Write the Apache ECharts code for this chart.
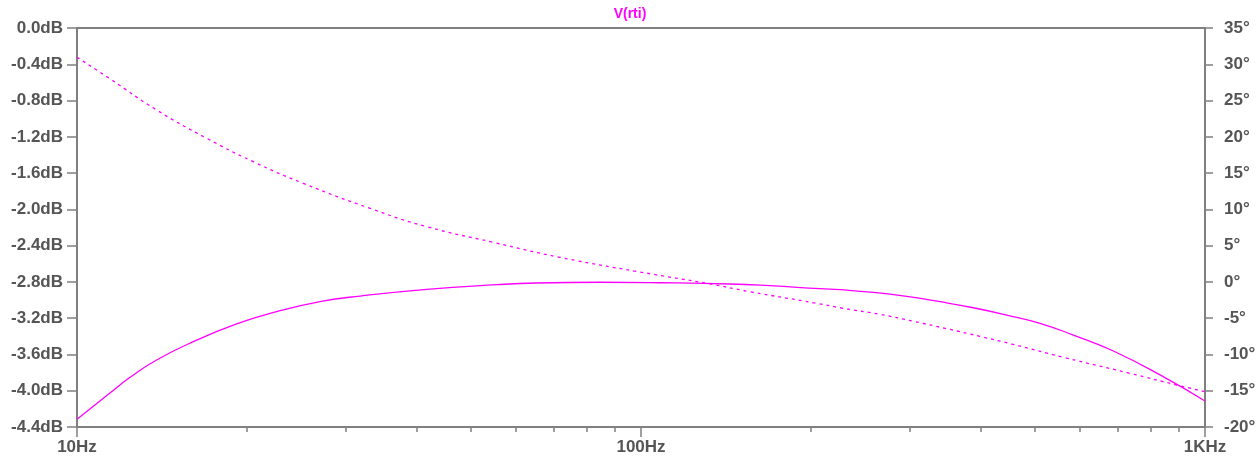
<!DOCTYPE html>
<html>
<head>
<meta charset="utf-8">
<style>
  html, body { margin: 0; padding: 0; background: #fff; }
  #chart { width: 1260px; height: 459px; }
</style>
<script src="https://cdn.jsdelivr.net/npm/echarts@6/dist/echarts.min.js"></script>
</head>
<body>
<div id="chart"></div>
<script>
// Frequency response of V(rti): magnitude (dB, solid) and phase (degrees, dashed)
const title = 'V(rti)';

const magFreq = [10, 11.44, 12.42, 13.84, 16.08, 19.19, 22.59, 26.97, 31.76, 41.7, 55.5, 65.2, 84.6, 108.1, 143.8, 169.3, 207.7, 225.4, 258.2, 295.9, 338.9, 388.3, 444.9, 509.8, 584.1, 688, 843, 1000];
const magDb   = [-4.315, -4.025, -3.852, -3.661, -3.459, -3.264, -3.129, -3.018, -2.956, -2.882, -2.831, -2.812, -2.804, -2.809, -2.823, -2.842, -2.875, -2.886, -2.915, -2.959, -3.018, -3.085, -3.165, -3.257, -3.386, -3.562, -3.845, -4.113];

const phaseFreq = [10, 11.44, 13.84, 16.98, 20.54, 25.19, 33.08, 41.7, 54.7, 71.8, 105.1, 130.8, 156.1, 204.9, 228.4, 265.4, 304, 348.3, 399, 454, 561, 736, 891, 1000];
const phaseDeg  = [30.96, 28.0, 23.7, 19.8, 16.57, 13.59, 10.14, 7.61, 5.46, 3.39, 1.05, -0.19, -1.35, -2.95, -3.64, -4.47, -5.43, -6.45, -7.5, -8.56, -10.39, -12.6, -14.21, -15.13];

const majorFreqTicks = [10, 100, 1000];
const majorFreqLabels = ['10Hz', '100Hz', '1KHz'];
const minorFreqTicks = [20, 30, 40, 50, 60, 70, 80, 90, 200, 300, 400, 500, 600, 700, 800, 900];

const dbMin = -4.4, dbMax = 0, dbStep = 0.4;
const degMin = -20, degMax = 35, degStep = 5;

const axisGray = '#808080';
const textGray = '#555555';
const trace = '#ff00ff';
const font = 'Liberation Sans';

const chart = echarts.init(document.getElementById('chart'), null, { renderer: 'canvas' });

chart.setOption({
  backgroundColor: '#ffffff',
  animation: false,
  title: {
    text: title,
    left: 'center',
    top: 2,
    textStyle: { color: trace, fontFamily: font, fontWeight: 'bold', fontSize: 14 }
  },
  grid: {
    left: 77, right: 55, top: 28, bottom: 32,
    show: true, borderColor: axisGray, borderWidth: 2, backgroundColor: '#ffffff'
  },
  xAxis: [
    {
      type: 'log', logBase: 10, min: 10, max: 1000,
      position: 'bottom',
      axisLine: { show: true, onZero: false, lineStyle: { color: axisGray, width: 2 } },
      axisTick: { show: true, length: 10, lineStyle: { color: axisGray, width: 1.5 } },
      minorTick: { show: false },
      splitLine: { show: false },
      axisLabel: {
        margin: 12, color: textGray, fontFamily: font, fontWeight: 'bold', fontSize: 17,
        formatter: v => {
          const i = majorFreqTicks.findIndex(t => Math.abs(t - v) < 1e-6);
          return i >= 0 ? majorFreqLabels[i] : '';
        }
      }
    },
    {
      // decade subdivisions, placed on a log10(f) scale
      type: 'value', min: 1, max: 3,
      position: 'bottom',
      axisLine: { show: false, onZero: false },
      axisTick: {
        show: true, length: 5, lineStyle: { color: axisGray, width: 1.5 },
        customValues: minorFreqTicks.map(f => Math.log10(f))
      },
      axisLabel: { show: false },
      splitLine: { show: false }
    }
  ],
  yAxis: [
    {
      type: 'value', min: dbMin, max: dbMax, interval: dbStep,
      position: 'left',
      axisLine: { show: true, onZero: false, lineStyle: { color: axisGray, width: 2 } },
      axisTick: { show: true, length: 10, lineStyle: { color: axisGray, width: 1.5 } },
      splitLine: { show: false },
      axisLabel: {
        margin: 14, color: textGray, fontFamily: font, fontWeight: 'bold', fontSize: 17,
        formatter: v => (Math.abs(v) < 1e-9 ? 0 : v).toFixed(1) + 'dB'
      }
    },
    {
      type: 'value', min: degMin, max: degMax, interval: degStep,
      position: 'right',
      axisLine: { show: true, onZero: false, lineStyle: { color: axisGray, width: 2 } },
      axisTick: { show: true, length: 8, lineStyle: { color: axisGray, width: 1.5 } },
      splitLine: { show: false },
      axisLabel: {
        margin: 19, color: textGray, fontFamily: font, fontWeight: 'bold', fontSize: 17,
        formatter: v => Math.round(v) + '°'
      }
    }
  ],
  series: [
    {
      name: 'magnitude', type: 'line', xAxisIndex: 0, yAxisIndex: 0,
      data: magFreq.map((f, i) => [f, magDb[i]]),
      showSymbol: false, smooth: 0.5,
      lineStyle: { color: trace, width: 1.3 }
    },
    {
      name: 'phase', type: 'line', xAxisIndex: 0, yAxisIndex: 1,
      data: phaseFreq.map((f, i) => [f, phaseDeg[i]]),
      showSymbol: false, smooth: 0.5,
      lineStyle: { color: trace, width: 1.3, type: [3, 4] }
    }
  ]
});
</script>
</body>
</html>
